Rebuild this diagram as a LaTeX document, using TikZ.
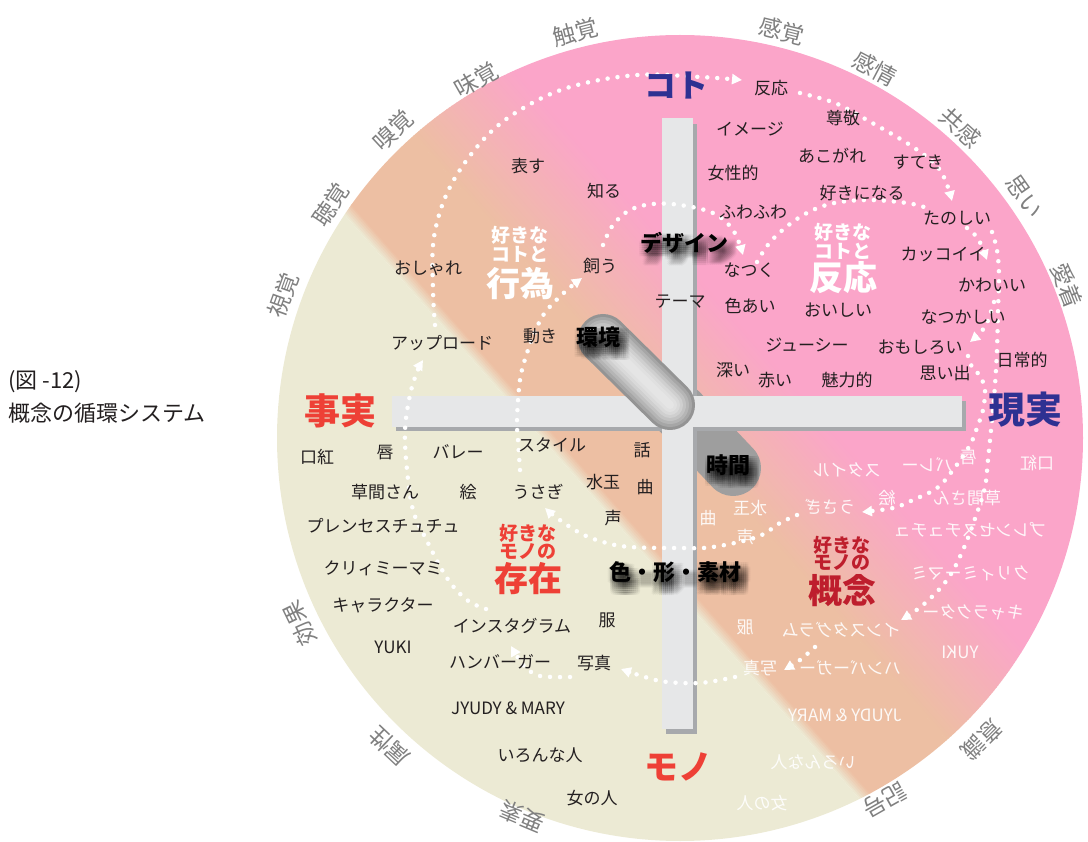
\documentclass[tikz,border=0pt]{standalone}
\usepackage{fontspec}
\newfontfamily\jp{Noto Sans CJK JP}
\usetikzlibrary{arrows.meta,calc}
\definecolor{beigec}{HTML}{ECEAD4}
\definecolor{salmonc}{HTML}{EDBFA3}
\definecolor{pinkc}{HTML}{FBA5C9}
\definecolor{navyc}{HTML}{2E3192}
\definecolor{redc}{HTML}{EE4036}
\definecolor{dredc}{HTML}{BE1E2D}
\definecolor{barc}{HTML}{E6E7E8}
\definecolor{barsh}{HTML}{A7A9AC}
\definecolor{outc}{HTML}{808080}
\definecolor{txtc}{HTML}{231F20}
\newcommand{\fs}[1]{\fontsize{#1}{#1}\selectfont}
\newcommand{\glowlabel}[3]{%
  \foreach \gx in {-6,-4,-2,0,2,4,6}{%
    \foreach \gy in {-6,-4,-2,0,2,4,6}{%
      \node[glowf, text opacity=0.035] at ($(#2)+(\gx+4,\gy+7)$) {#3};}}%
  \node[glowf] (#1) at (#2) {#3};}
\tikzset{
  every node/.style={inner sep=0pt, font=\jp\fs{17}},
  lab/.style={text=txtc, font=\jp\fs{17}},
  mir/.style={text=white, text opacity=0.9, font=\jp\fs{17}, xscale=-1},
  outl/.style={text=outc, font=\jp\fs{23}},
  glowf/.style={text=black, font=\jp\bfseries\fs{22}},
  axisw/.style={font=\jp\bfseries\fs{34}},
  smallt/.style={font=\jp\bfseries\fs{19}},
  bigt/.style={font=\jp\bfseries\fs{34}},
  dotline/.style={white, line width=4.5pt, line cap=round, dash pattern=on 0pt off 10pt},
  tipw/.style={-{Triangle[length=10pt,width=10pt]}}
}
\begin{document}
\begin{tikzpicture}[x=1pt,y=-1pt]
\useasboundingbox (0,0) rectangle (1088,842);
\coordinate (C) at (680,438);
% ---------- background disc ----------
\begin{scope}
  \clip (C) circle (403);
  \begin{scope}[shift={(680,438)}, rotate=41.4]
    \fill[beigec] (-800,-800) rectangle (-104,800);
    \foreach \i in {0,...,5}{
      \pgfmathsetmacro\p{100*(\i+0.5)/6}
      \fill[salmonc!\p!beigec] (-104+2*\i,-800) rectangle (-101.5+2*\i,800);}
    \fill[salmonc] (-92.5,-800) rectangle (0.5,800);
    \foreach \i in {0,...,39}{
      \pgfmathsetmacro\p{100*(\i+0.5)/40}
      \fill[pinkc!\p!salmonc] (3*\i,-800) rectangle (3*\i+3.6,800);}
    \fill[pinkc] (120,-800) rectangle (800,800);
  \end{scope}
\end{scope}
% ---------- cross, cylinders ----------
\draw[line width=56, line cap=round, black!38] (680,412) -- (733,468);
\fill[barsh] (666,124) rectangle (697,734);
\fill[barsh] (396,401) rectangle (966,431);
\fill[barc] (662,118) rectangle (693,729);
\fill[barc] (392,396) rectangle (962,427);
\foreach \w/\c in {50/42,44/35,38/29,32/24,26/19,20/15,14/12,8/10}
  \draw[line width=\w, black!\c, line cap=round] (603,339) -- (670,405);
% ---------- dotted loops ----------
% outer loop
\draw[dotline, tipw] plot[smooth, tension=0.6] coordinates {(435,325) (433,290) (434,237) (450,187) (483,140) (520,110) (570,87) (637,75) (700,77) (742,80)};
\draw[dotline, tipw] plot[smooth, tension=0.6] coordinates {(800,93) (835,103) (867,120) (913,147) (940,170) (952,201)};
\draw[dotline, tipw] plot[smooth, tension=0.6] coordinates {(992,232) (997,250) (999,275) (998,310) (997,350) (995,385) (992,420) (988,460) (985,487) (977,513) (963,550) (947,580) (923,605) (901,620)};
\draw[dotline, tipw] plot[smooth] coordinates {(815,647) (800,660) (784,670)};
\draw[dotline, tipw] plot[smooth] coordinates {(735,677) (700,683) (660,681) (621,669)};
\draw[dotline, tipw] plot[smooth] coordinates {(570,677) (540,676) (524,666) (511,646)};
\draw[dotline, tipw] plot[smooth, tension=0.6] coordinates {(486,609) (467,600) (447,578) (425,537) (413,510) (407,470) (405,430) (410,395) (417,372) (423,360)};
% inner loop
\draw[dotline] plot[smooth, tension=0.6] coordinates {(757,262) (772,240) (800,217) (830,204) (867,200) (907,203) (927,208)};
\draw[dotline, tipw] plot[smooth] coordinates {(967,228) (977,237) (982,247) (987,260)};
\draw[dotline, tipw] plot[smooth] coordinates {(994,302) (987,323) (980,333) (970,342)};
\draw[dotline, tipw] plot[smooth, tension=0.6] coordinates {(968,356) (972,367) (980,376) (985,390) (983,410) (978,425) (970,445) (953,470) (937,488) (913,500) (893,508) (862,512)};
\draw[dotline, tipw] plot[smooth, tension=0.6] coordinates {(797,515) (780,523) (757,537) (713,547) (680,548) (630,547) (603,542) (580,533) (557,518) (545,508)};
\draw[dotline, tipw] plot[smooth, tension=0.6] coordinates {(520,470) (518,440) (517,420) (520,380) (527,353) (537,327) (547,310) (567,290) (582,278)};
\draw[dotline, tipw] plot[smooth, tension=0.6] coordinates {(603,245) (613,225) (630,210) (653,204) (680,205) (713,213) (733,230) (743,255)};
% ---------- outer labels ----------
\foreach \ang/\rr/\txt [count=\k] in {160.2/422/視覚,146.3/420/聴覚,133/421/嗅覚,119.6/412/味覚,104.5/419/触覚,76/420/感覚,62.2/418/感情,47.9/418/共感,35/421/思い,21.5/416/愛着,206/423/効果,226.7/424/属性,247.3/410/要素,299.5/416/記号,315/427/意識}
  \node[outl, rotate=\ang-90] (o\k) at ($(C)+(-\ang:\rr)$) {\txt};
% ---------- caption ----------
\node[anchor=west, text=txtc, font=\jp\fs{22}] (cap1) at (8,382) {(図 -12)};
\node[anchor=west, text=txtc, font=\jp\fs{22}] (cap2) at (8,413) {概念の循環システム};
% ---------- axis words ----------
\node[axisw, text=navyc, font=\jp\bfseries\fs{32}] (koto) at (676,86) {コト};
\node[axisw, text=navyc, font=\jp\bfseries\fs{37}] (genjitsu) at (1025,410) {現実};
\node[axisw, text=redc, font=\jp\bfseries\fs{36}] (jijitsu) at (340,411) {事実};
\node[axisw, text=redc] (mono) at (678,767) {モノ};
% ---------- glow labels ----------
\glowlabel{g1}{684,243}{デザイン}
\glowlabel{g2}{598,337}{環境}
\glowlabel{g3}{728,465}{時間}
\glowlabel{g4}{675,572}{色・形・素材}
% ---------- titles ----------
\node[smallt, text=white] (w1) at (520,235) {好きな};
\node[smallt, text=white] (w2) at (520,254) {コトと};
\node[bigt, text=white] (w3) at (520,284) {行為};
\node[smallt, text=white] (w4) at (843,232) {好きな};
\node[smallt, text=white] (w5) at (843,251) {コトと};
\node[bigt, text=white] (w6) at (843,278) {反応};
\node[smallt, text=redc] (r1) at (528,533) {好きな};
\node[smallt, text=redc] (r2) at (528,552) {モノの};
\node[bigt, text=redc] (r3) at (528,579) {存在};
\node[smallt, text=dredc] (d1) at (842,545) {好きな};
\node[smallt, text=dredc] (d2) at (842,563) {モノの};
\node[bigt, text=dredc] (d3) at (842,591) {概念};
% ---------- black labels ----------
\foreach \x/\y/\t [count=\k] in {528/166/表す,604/191/知る,428/268/おしゃれ,600/266/飼う,442/343/アップロード,540/336/動き,680/302/テーマ,771/88/反応,843/118/尊敬,750/129/イメージ,832/156/あこがれ,918/162/すてき,733/173/女性的,862/193/好きになる,753/212/ふわふわ,957/218/たのしい,943/254/カッコイイ,749/270/なつく,992/285/かわいい,750/306/色あい,838/310/おいしい,963/317/なつかしい,807/345/ジューシー,920/347/おもしろい,1022/360/日常的,733/370/深い,775/380/赤い,847/380/魅力的,945/373/思い出}
  \node[lab] (t\k) at (\x,\y) {\t};
\foreach \x/\y/\t [count=\k] in {317/457/口紅,385/453/唇,458/452/バレー,552/445/スタイル,642/450/話,385/492/草間さん,468/492/絵,538/492/うさぎ,603/482/水玉,645/487/曲,383/526/プレンセスチュチュ,613/518/声,383/568/クリィミーマミ,383/605/キャラクター,512/626/インスタグラム,607/620/服,393/647/YUKI,500/662/ハンバーガー,594/663/写真,540/755/いろんな人,592/798/女の人}
  \node[lab] (b\k) at (\x,\y) {\t};
\node[lab] (b22) at (508,708) {JYUDY \& MARY};
% ---------- mirrored labels ----------
\foreach \x/\y/\t [count=\k] in {968/458/唇,1037/463/口紅,927/465/バレー,847/470/スタイル,887/498/絵,967/498/草間さん,830/507/うさぎ,750/508/水玉,708/518/曲,745/537/声,970/530/プレンセスチュチュ,970/573/クリィミーマミ,973/612/キャラクター,841/630/インスタグラム,745/627/服,960/652/YUKI,850/668/ハンバーガー,760/668/写真,813/762/いろんな人,762/803/女の人}
  \node[mir] (m\k) at (\x,\y) {\t};
\node[mir] (m21) at (845,715) {JYUDY \& MARY};
\end{tikzpicture}
\end{document}
